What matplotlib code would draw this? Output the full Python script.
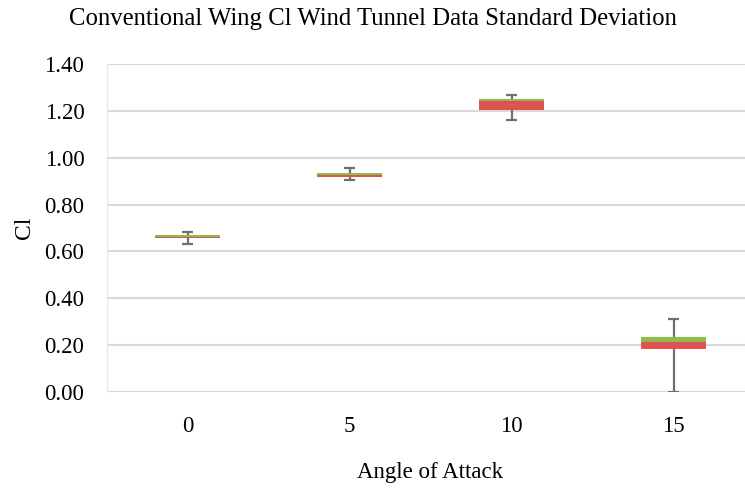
import matplotlib

matplotlib.use("Agg")
import matplotlib.pyplot as plt
import numpy as np

angles = ["0", "5", "10", "15"]
whisker_low = [0.632, 0.905, 1.162, 0.001]
whisker_high = [0.681, 0.954, 1.269, 0.310]
box_low = [0.656, 0.919, 1.203, 0.184]
box_mid = [0.663, 0.926, 1.244, 0.213]
box_high = [0.669, 0.935, 1.251, 0.235]

RED = "#e05252"
GREEN = "#8cbc4c"
WHISKER = "#6f6f6f"

plt.rcParams["font.family"] = ["Liberation Serif", "DejaVu Serif"]

fig = plt.figure(figsize=(7.45, 4.88), dpi=100)
# plot area runs a little past the right edge of the picture, as in the source
ax = fig.add_axes([0.143, 0.1967, 0.8698, 0.6722])

x = np.arange(len(angles))
low = np.array(box_low)
mid = np.array(box_mid)
high = np.array(box_high)

ax.vlines(x, whisker_low, whisker_high, color=WHISKER, linewidth=1.6, zorder=2)
ax.hlines(whisker_low, x - 0.035, x + 0.035, color=WHISKER, linewidth=1.6, zorder=2)
ax.hlines(whisker_high, x - 0.035, x + 0.035, color=WHISKER, linewidth=1.6, zorder=2)
ax.bar(x, mid - low, bottom=low, width=0.40, color=RED, zorder=3)
ax.bar(x, high - mid, bottom=mid, width=0.40, color=GREEN, zorder=3)

ax.set_xlim(-0.5, len(angles) - 0.5)
ax.set_ylim(0, 1.4)
ax.set_yticks(np.arange(0, 1.41, 0.2))
ax.set_yticklabels([f"{v:.2f}" for v in np.arange(0, 1.41, 0.2)])
ax.set_xticks(x)
ax.set_xticklabels(angles)
ax.tick_params(axis="both", length=0, labelsize=16.5, colors="#000000")
ax.tick_params(axis="x", pad=17)
ax.tick_params(axis="y", pad=16)
ax.grid(axis="y", color="#d9d9d9", linewidth=1.5, zorder=0)
ax.set_axisbelow(True)
for side in ("top", "right", "bottom"):
    ax.spines[side].set_visible(False)
ax.spines["left"].set_color("#efe9dc")
ax.spines["left"].set_linewidth(1)

ax.set_ylabel("Cl", fontsize=17, labelpad=7)
ax.set_xlabel("Angle of Attack", fontsize=16.5, labelpad=18)
fig.text(0.5, 0.962, "Conventional Wing Cl Wind Tunnel Data Standard Deviation",
         ha="center", va="center", fontsize=17.8)

fig.savefig("out.png", dpi=100)
